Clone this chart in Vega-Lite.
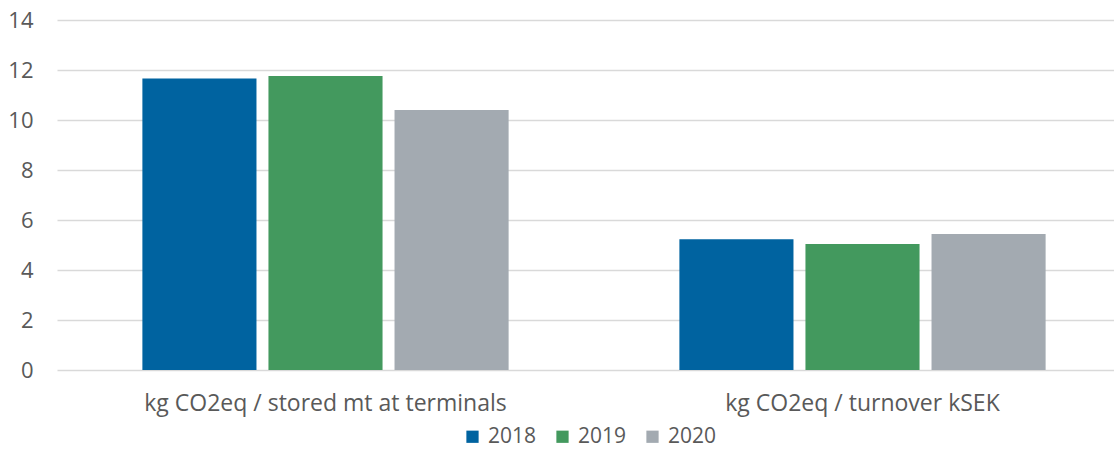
{
  "$schema": "https://vega.github.io/schema/vega-lite/v6.json",
  "autosize": {"type": "none"},
  "padding": {"left": 57, "top": 20, "right": 14, "bottom": 79},
  "width": 1043,
  "height": 350,
  "background": "white",
  "data": {"values": [
    {"metric": "kg CO2eq / stored mt at terminals", "year": "2018", "value": 11.66},
    {"metric": "kg CO2eq / stored mt at terminals", "year": "2019", "value": 11.76},
    {"metric": "kg CO2eq / stored mt at terminals", "year": "2020", "value": 10.4},
    {"metric": "kg CO2eq / turnover kSEK", "year": "2018", "value": 5.23},
    {"metric": "kg CO2eq / turnover kSEK", "year": "2019", "value": 5.04},
    {"metric": "kg CO2eq / turnover kSEK", "year": "2020", "value": 5.44}
  ]},
  "mark": {"type": "bar"},
  "encoding": {
    "x": {"field": "metric", "type": "nominal", "sort": null,
      "scale": {"range": [0, 1074], "paddingInner": 0.318, "paddingOuter": 0.159},
      "axis": {"title": null, "labelAngle": 0, "labelFont": "Open Sans", "labelFontSize": 23, "labelLimit": 0, "labelColor": "#595959", "labelPadding": 22, "ticks": false, "domain": false}},
    "xOffset": {"field": "year", "type": "nominal", "scale": {"paddingInner": 0.095, "paddingOuter": 0}},
    "y": {"field": "value", "type": "quantitative",
      "scale": {"domain": [0, 14]},
      "axis": {"title": null, "values": [0,2,4,6,8,10,12,14], "labelFont": "Open Sans", "labelFontSize": 22, "labelColor": "#595959", "labelPadding": 24, "ticks": false, "domain": false, "gridColor": "#D9D9D9", "gridWidth": 1.3}},
    "color": {"field": "year", "type": "nominal",
      "scale": {"domain": ["2018", "2019", "2020"], "range": ["#0063A0", "#43995E", "#A3AAB1"]},
      "legend": {"title": null, "orient": "none", "legendX": 405, "legendY": 406, "direction": "horizontal", "symbolType": "square", "symbolSize": 150, "symbolStrokeWidth": 0, "labelFont": "Open Sans", "labelFontSize": 21, "labelColor": "#595959", "columnPadding": 15, "labelOffset": 5, "padding": 0}}
  },
  "config": {"view": {"stroke": null}}
}
